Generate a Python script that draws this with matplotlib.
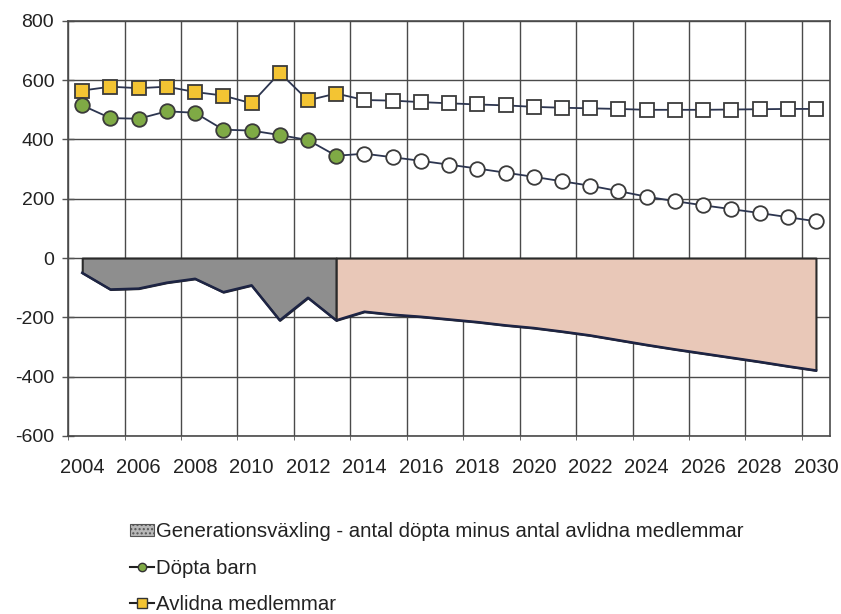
import numpy as np
import matplotlib
matplotlib.use('Agg')
import matplotlib.pyplot as plt
from matplotlib.lines import Line2D
from matplotlib.patches import Patch

plt.rcParams['font.family'] = ['Liberation Sans', 'DejaVu Sans']
plt.rcParams['axes.unicode_minus'] = False

# years on the category axis
years = list(range(2004, 2031))
n_hist = 10  # 2004-2013 are outcomes, the rest is forecast

# baptised children (Döpta barn)
dopta = [515, 472, 470, 495, 490, 433, 430, 415, 398, 345,
         352, 340, 328, 315, 302, 288, 274, 259, 244, 226,
         207, 192, 178, 165, 152, 138, 124]

# deceased members (Avlidna medlemmar)
avlidna = [565, 578, 573, 578, 560, 548, 522, 625, 532, 555,
           533, 531, 526, 522, 518, 515, 510, 507, 505, 503,
           500, 500, 500, 501, 502, 503, 503]

yticks = [-600, -400, -200, 0, 200, 400, 600, 800]
xlabels = years[::2]

x = np.array(years)
d = np.array(dopta)
a = np.array(avlidna)
diff = d - a

fig = plt.figure(figsize=(8.41, 6.14), dpi=100)
ax = fig.add_axes([0.081, 0.290, 0.906, 0.676])

line_col = '#2c3550'
edge_col = '#3a3a3a'

# generation change area: outcome grey, forecast pink
ax.fill_between(x[:n_hist], 0, diff[:n_hist], facecolor='#8e8e8e',
                edgecolor='#2a2a2a', linewidth=1.5, zorder=2)
ax.fill_between(x[n_hist - 1:], 0, diff[n_hist - 1:], facecolor='#e9c8b8',
                edgecolor='#2a2a2a', linewidth=1.5, zorder=2)
ax.plot(x, diff, color='#1d2444', linewidth=1.8, zorder=3)

# lines
ax.plot(x, a, color=line_col, linewidth=1.3, zorder=4)
ax.plot(x, d, color=line_col, linewidth=1.3, zorder=4)

# markers, coloured for outcome, white for forecast
ax.plot(x[:n_hist], a[:n_hist], linestyle='none', marker='s', markersize=10.5,
        markerfacecolor='#f3c433', markeredgecolor=edge_col, markeredgewidth=1.3, zorder=5)
ax.plot(x[n_hist:], a[n_hist:], linestyle='none', marker='s', markersize=10.5,
        markerfacecolor='white', markeredgecolor=edge_col, markeredgewidth=1.3, zorder=5)
ax.plot(x[:n_hist], d[:n_hist], linestyle='none', marker='o', markersize=10.5,
        markerfacecolor='#7faa45', markeredgecolor=edge_col, markeredgewidth=1.3, zorder=5)
ax.plot(x[n_hist:], d[n_hist:], linestyle='none', marker='o', markersize=10.5,
        markerfacecolor='white', markeredgecolor=edge_col, markeredgewidth=1.3, zorder=5)

ax.set_xlim(years[0] - 0.5, years[-1] + 0.5)
ax.set_ylim(yticks[0], yticks[-1])
ax.set_yticks(yticks)
ax.set_xticks(xlabels)
ax.set_xticklabels([str(v) for v in xlabels])
ax.set_xticks(np.arange(years[0] - 0.5, years[-1] + 0.5, 2), minor=True)

ax.grid(axis='y', color='#4a4a4a', linewidth=1.0, zorder=1)
ax.grid(axis='x', which='minor', color='#4a4a4a', linewidth=1.0, zorder=1)
ax.set_axisbelow(True)

ax.tick_params(axis='y', direction='inout', length=8, width=1, color='#555555',
               labelsize=14, labelcolor='#222222', pad=6)
ax.tick_params(axis='x', which='major', length=0, labelsize=14.5, labelcolor='#222222', pad=16)
ax.tick_params(axis='x', which='minor', direction='out', length=3, color='#555555')

for s in ax.spines.values():
    s.set_color('#4a4a4a')
    s.set_linewidth(1.2)

handles = [
    Patch(facecolor='#b8b8b8', edgecolor='#555555', hatch='....', linewidth=0.8),
    Line2D([], [], color='#222222', linewidth=1.5, marker='o', markersize=6,
           markerfacecolor='#7faa45', markeredgecolor='#333333'),
    Line2D([], [], color='#222222', linewidth=1.5, marker='s', markersize=7,
           markerfacecolor='#f3c433', markeredgecolor='#333333'),
]
labels = ['Generationsväxling - antal döpta minus antal avlidna medlemmar',
          'Döpta barn', 'Avlidna medlemmar']
fig.legend(handles, labels, loc='upper left', bbox_to_anchor=(0.143, 0.166),
           frameon=False, fontsize=14.7, handlelength=1.15, handleheight=0.5,
           handletextpad=0.12, labelspacing=0.85, borderpad=0, labelcolor='#222222')

fig.savefig('out.png', dpi=100, facecolor='white')
